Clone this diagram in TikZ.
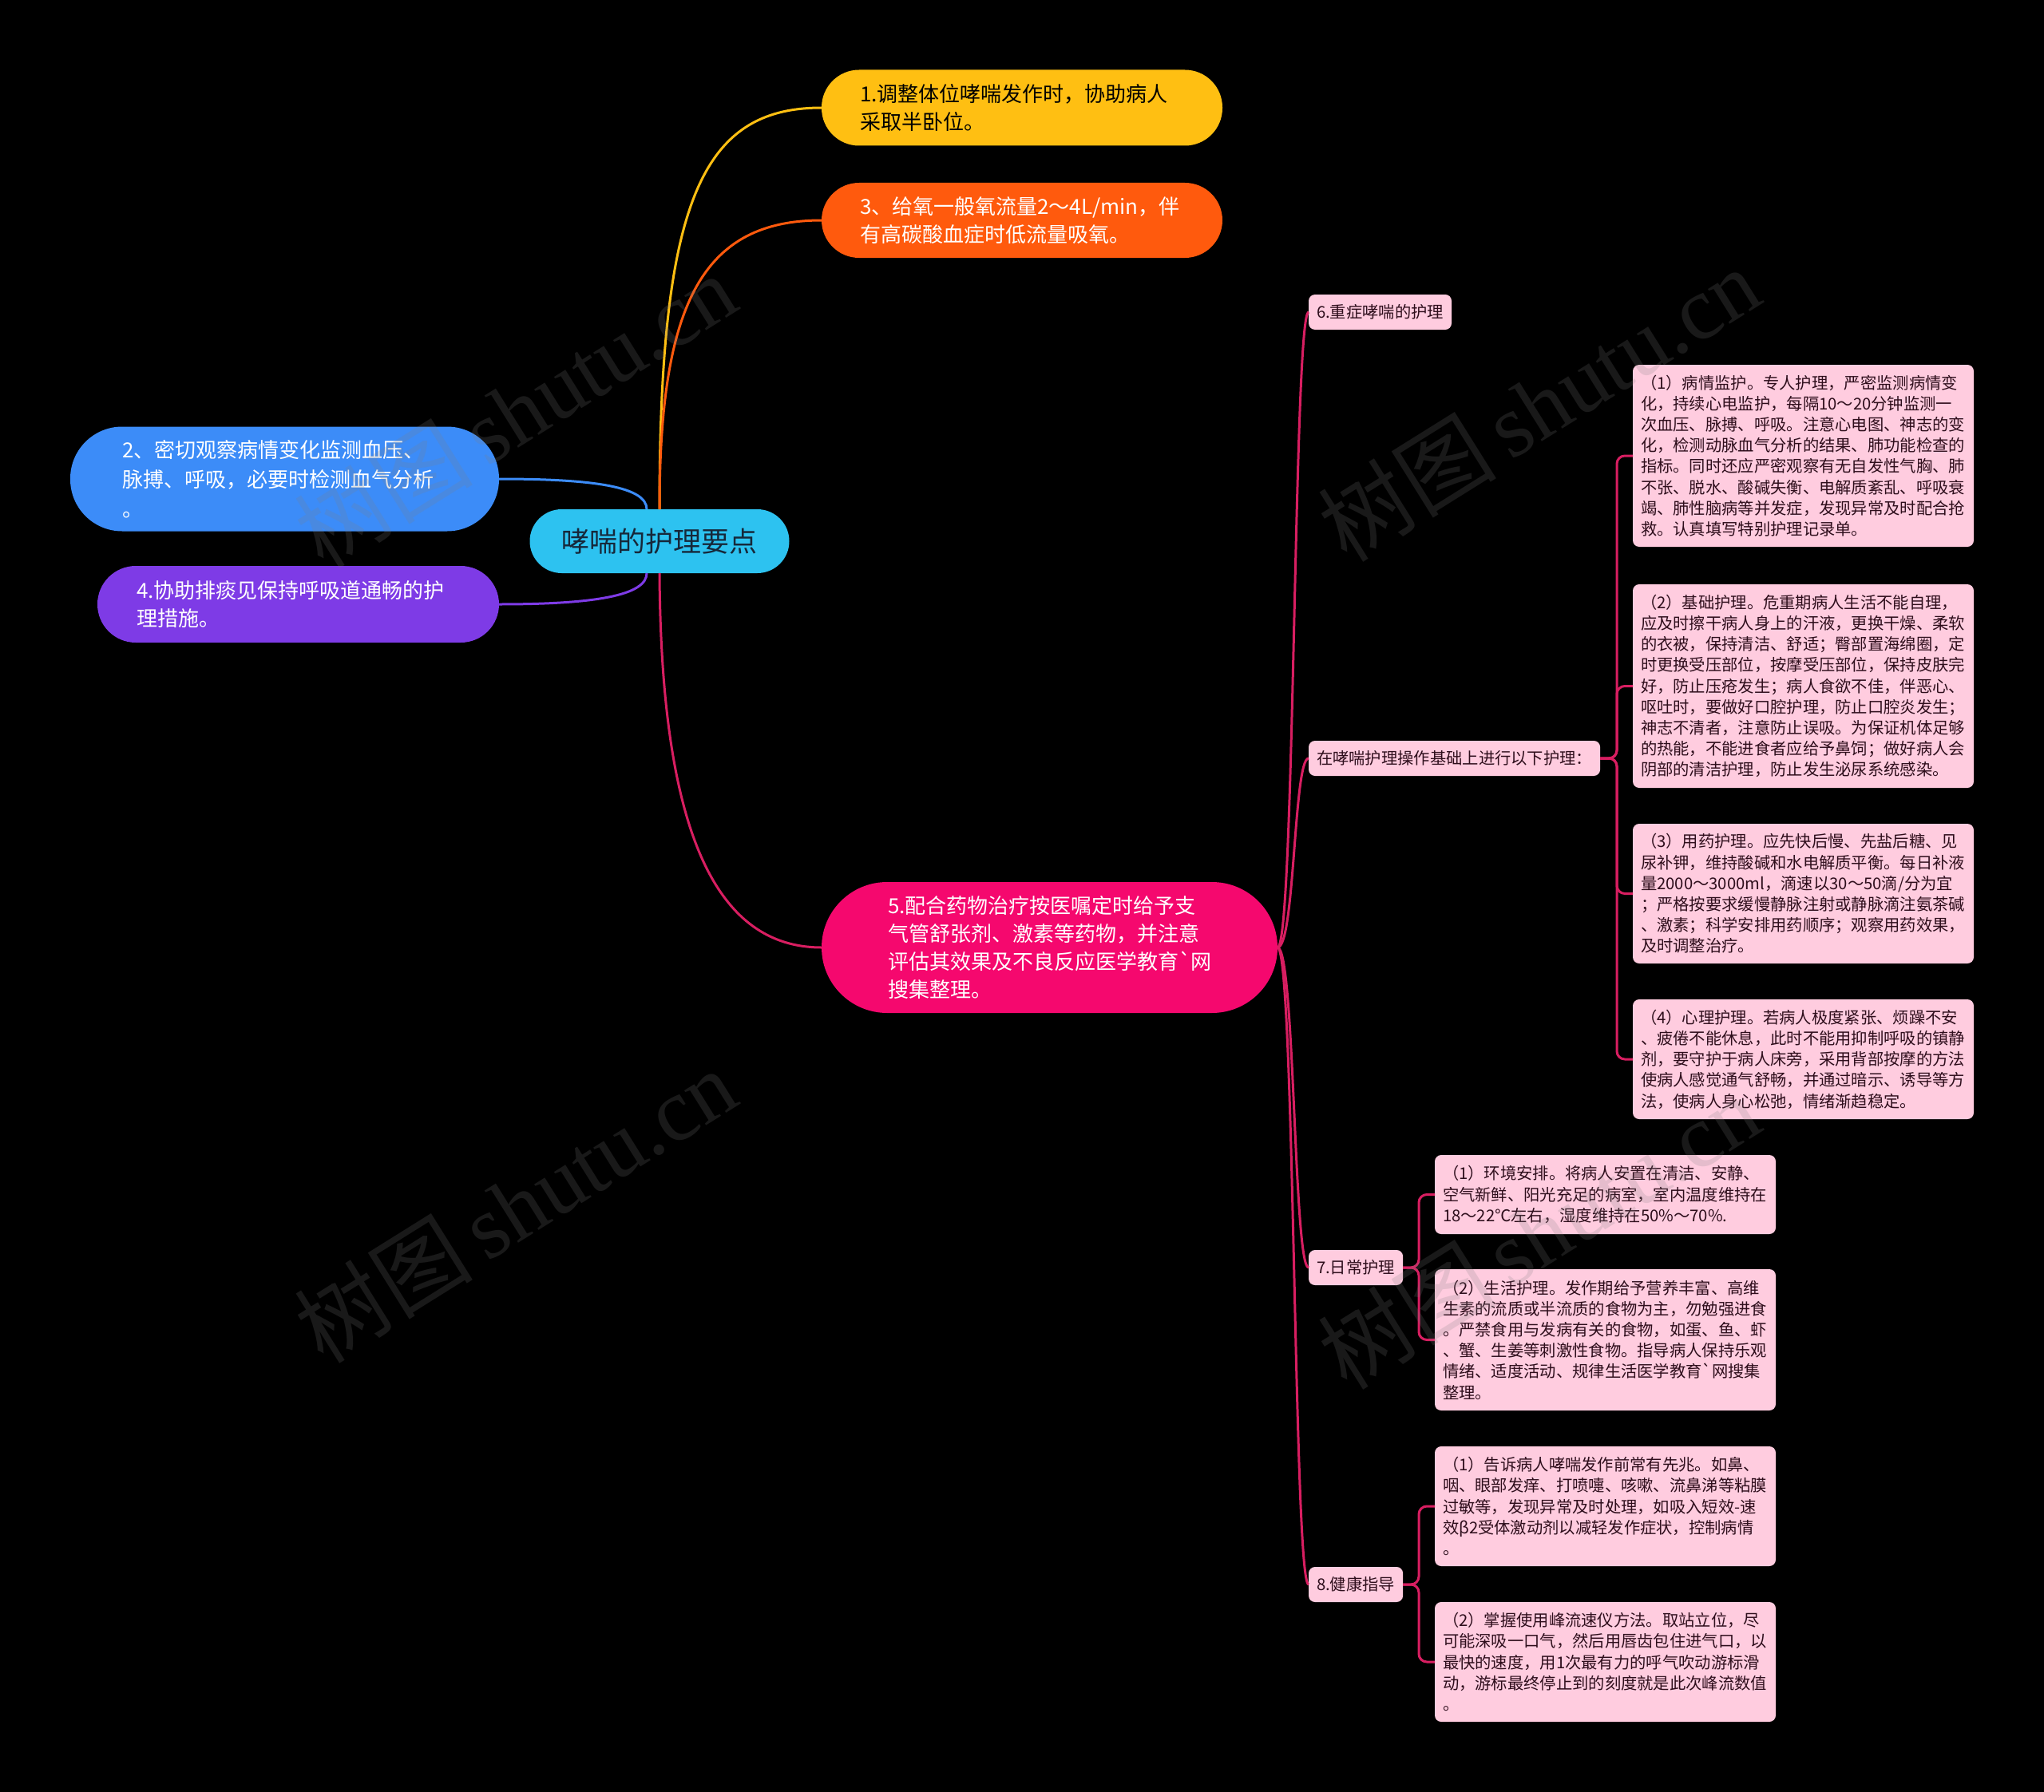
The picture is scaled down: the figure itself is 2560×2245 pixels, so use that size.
\documentclass[tikz,border=0pt]{standalone}
\usepackage{fontspec}
\newfontfamily\cjk{Noto Sans CJK SC}
\newfontfamily\wmserif{Liberation Serif}
\definecolor{cyel}{HTML}{FFBF12}
\definecolor{corg}{HTML}{FF5A0D}
\definecolor{cblue}{HTML}{3C8CF8}
\definecolor{cpur}{HTML}{7E3BE6}
\definecolor{ccyan}{HTML}{2DC2F0}
\definecolor{cmag}{HTML}{F5086E}
\definecolor{cspine}{HTML}{D81E61}
\definecolor{cpink}{HTML}{FFCCDF}
\definecolor{ctext}{HTML}{2E0E1C}
\definecolor{cdark}{HTML}{16283A}
\begin{document}
\begin{tikzpicture}[x=1pt,y=-1pt,
  pill/.style={anchor=west, align=left, outer sep=0pt, inner ysep=0pt,
    font=\cjk\fontsize{26}{35}\selectfont},
  pinkbox/.style={anchor=north west, fill=cpink, rounded corners=8pt, outer sep=0pt,
    text width=407pt, inner xsep=10pt, inner ysep=0pt, align=left, text=ctext,
    font=\cjk\fontsize{20.3}{26.2}\selectfont},
  smallbox/.style={anchor=west, fill=cpink, rounded corners=8pt, outer sep=0pt,
    inner xsep=10pt, inner ysep=0pt, minimum height=44pt, text=ctext,
    font=\cjk\fontsize{20.3}{26.2}\selectfont},
  conn/.style={line width=3pt},
  brk/.style={cspine, line width=3pt, rounded corners=10pt},
  wm/.style={rotate=32, text=gray, opacity=0.2, font=\fontsize{112}{120}\selectfont}
]
\useasboundingbox (0,0) rectangle (2560,2245);
\fill[black] (0,0) rectangle (2560,2245);

% central
\node[fill=ccyan, rounded corners=40pt, minimum width=325pt, minimum height=80pt,
  outer sep=0pt, text=cdark, font=\cjk\fontsize{35}{40}\selectfont] (c) at (826,678) {哮喘的护理要点};

% main branches
\node[pill, fill=cyel, text=black, text width=406pt, inner xsep=48pt, minimum height=95pt,
  rounded corners=47pt] (n1) at (1029,135) {1.调整体位哮喘发作时，协助病人\\采取半卧位。};
\node[pill, fill=corg, text=white, text width=406pt, inner xsep=48pt, minimum height=94pt,
  rounded corners=47pt] (n3) at (1029,276) {3、给氧一般氧流量2～4L/min，伴\\有高碳酸血症时低流量吸氧。};
\node[pill, fill=cblue, text=white, text width=407pt, inner xsep=65pt, minimum height=131pt,
  rounded corners=65pt, font=\cjk\fontsize{26}{37}\selectfont] (n2) at (88,600)
  {2、密切观察病情变化监测血压、\\脉搏、呼吸，必要时检测血气分析\\。};
\node[pill, fill=cpur, text=white, text width=405pt, inner xsep=49pt, minimum height=96pt,
  rounded corners=48pt] (n4) at (122,757) {4.协助排痰见保持呼吸道通畅的护\\理措施。};
\node[pill, fill=cmag, text=white, text width=405pt, inner xsep=83pt, minimum height=164pt,
  rounded corners=82pt] (n5) at (1029,1187)
  {5.配合药物治疗按医嘱定时给予支\\气管舒张剂、激素等药物，并注意\\评估其效果及不良反应医学教育`网\\搜集整理。};

% second level
\node[smallbox] (s6) at (1639,391) {6.重症哮喘的护理};
\node[smallbox] (sb) at (1639,950) {在哮喘护理操作基础上进行以下护理：};
\node[smallbox] (s7) at (1639,1588) {7.日常护理};
\node[smallbox] (s8) at (1639,1985) {8.健康指导};

% leaves
\node[pinkbox, minimum height=228pt] (a1) at (2045,457)
{（1）病情监护。专人护理，严密监测病情变\\化，持续心电监护，每隔10～20分钟监测一\\次血压、脉搏、呼吸。注意心电图、神志的变\\化，检测动脉血气分析的结果、肺功能检查的\\指标。同时还应严密观察有无自发性气胸、肺\\不张、脱水、酸碱失衡、电解质紊乱、呼吸衰\\竭、肺性脑病等并发症，发现异常及时配合抢\\救。认真填写特别护理记录单。};
\node[pinkbox, minimum height=255pt] (a2) at (2045,732)
{（2）基础护理。危重期病人生活不能自理，\\应及时擦干病人身上的汗液，更换干燥、柔软\\的衣被，保持清洁、舒适；臀部置海绵圈，定\\时更换受压部位，按摩受压部位，保持皮肤完\\好，防止压疮发生；病人食欲不佳，伴恶心、\\呕吐时，要做好口腔护理，防止口腔炎发生；\\神志不清者，注意防止误吸。为保证机体足够\\的热能，不能进食者应给予鼻饲；做好病人会\\阴部的清洁护理，防止发生泌尿系统感染。};
\node[pinkbox, minimum height=175pt] (a3) at (2045,1032)
{（3）用药护理。应先快后慢、先盐后糖、见\\尿补钾，维持酸碱和水电解质平衡。每日补液\\量2000～3000ml，滴速以30～50滴/分为宜\\；严格按要求缓慢静脉注射或静脉滴注氨茶碱\\、激素；科学安排用药顺序；观察用药效果，\\及时调整治疗。};
\node[pinkbox, minimum height=150pt] (a4) at (2045,1252)
{（4）心理护理。若病人极度紧张、烦躁不安\\、疲倦不能休息，此时不能用抑制呼吸的镇静\\剂，要守护于病人床旁，采用背部按摩的方法\\使病人感觉通气舒畅，并通过暗示、诱导等方\\法，使病人身心松弛，情绪渐趋稳定。};
\node[pinkbox, minimum height=99pt] (b1) at (1797,1447)
{（1）环境安排。将病人安置在清洁、安静、\\空气新鲜、阳光充足的病室，室内温度维持在\\18～22℃左右，湿度维持在50\%～70\%.};
\node[pinkbox, minimum height=177pt] (b2) at (1797,1590)
{（2）生活护理。发作期给予营养丰富、高维\\生素的流质或半流质的食物为主，勿勉强进食\\。严禁食用与发病有关的食物，如蛋、鱼、虾\\、蟹、生姜等刺激性食物。指导病人保持乐观\\情绪、适度活动、规律生活医学教育`网搜集\\整理。};
\node[pinkbox, minimum height=150pt] (c1) at (1797,1812)
{（1）告诉病人哮喘发作前常有先兆。如鼻、\\咽、眼部发痒、打喷嚏、咳嗽、流鼻涕等粘膜\\过敏等，发现异常及时处理，如吸入短效-速\\效β2受体激动剂以减轻发作症状，控制病情\\。};
\node[pinkbox, minimum height=150pt] (c2) at (1797,2007)
{（2）掌握使用峰流速仪方法。取站立位，尽\\可能深吸一口气，然后用唇齿包住进气口，以\\最快的速度，用1次最有力的呼气吹动游标滑\\动，游标最终停止到的刻度就是此次峰流数值\\。};

% connectors from centre
\draw[conn, cyel] (c.north) .. controls (826,250) and (880,135) .. (n1.west);
\draw[conn, corg] (c.north) .. controls (826,380) and (880,276) .. (n3.west);
\draw[conn, cblue] (n2.east) .. controls (745,600) and (810,610) .. ([xshift=-16pt]c.north);
\draw[conn, cpur] ([xshift=-16pt]c.south) .. controls (810,746) and (745,757) .. (n4.east);
\draw[conn, cspine] (c.south) .. controls (828,1050) and (900,1187) .. (n5.west);

% spine from node 5
\draw[conn, cspine] (n5.east) .. controls (1622,1187) and (1620,391) .. (s6.west);
\draw[conn, cspine] (n5.east) .. controls (1622,1187) and (1620,950) .. (sb.west);
\draw[conn, cspine] (n5.east) .. controls (1622,1187) and (1620,1588) .. (s7.west);
\draw[conn, cspine] (n5.east) .. controls (1622,1187) and (1620,1985) .. (s8.west);

% brackets
\foreach \t in {a1,a2,a3,a4}{\draw[brk] (sb.east) -- (2025,950) |- (\t.west);}
\foreach \t in {b1,b2}{\draw[brk] (s7.east) -- (1777,1588) |- (\t.west);}
\foreach \t in {c1,c2}{\draw[brk] (s8.east) -- (1777,1985) |- (\t.west);}

% watermarks
\node[wm] (w1) at (645,514) {\cjk 树图\,\wmserif shutu.cn};
\node[wm] (w2) at (1927,506) {\cjk 树图\,\wmserif shutu.cn};
\node[wm] (w3) at (645,1510) {\cjk 树图\,\wmserif shutu.cn};
\node[wm] (w4) at (1927,1543) {\cjk 树图\,\wmserif shutu.cn};
\end{tikzpicture}
\end{document}
